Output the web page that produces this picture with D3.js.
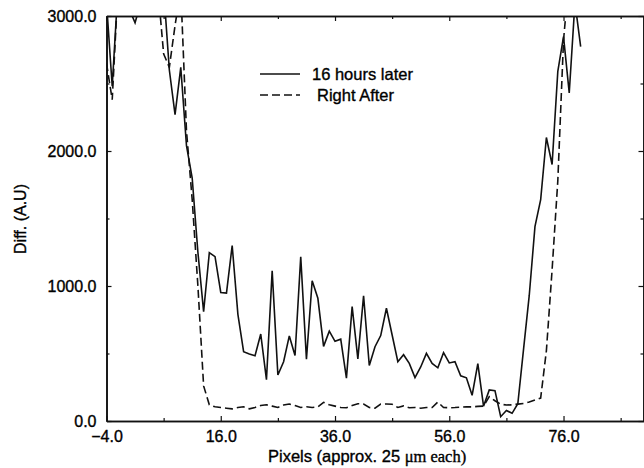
<!DOCTYPE html>
<html>
<head>
<meta charset="utf-8">
<script src="https://cdn.jsdelivr.net/npm/d3@7"></script>
<style>
body { margin: 0; background: #fff; }
text { font-family: "Liberation Sans", Arial, sans-serif; fill: #000; stroke: #000; stroke-width: 0.35px; }
</style>
</head>
<body>
<div class="container"></div>
<script>
// pixel index along the scan
var pixels = d3.range(-4, 80);

// "16 hours later" (solid)
var later16h = [
	3100, 2480, 3200, 3200, 3050, 2950, 3100, 3200, 3200, 3200,
	3200, 2600, 2270, 2620, 2040, 1800, 1250, 810, 1247, 1217,
	952, 948, 1300, 790, 513, 497, 483, 644, 306, 1112,
	341, 439, 630, 485, 1217, 457, 1039, 909, 553, 665,
	590, 606, 318, 847, 460, 928, 411, 550, 633, 835,
	637, 439, 491, 427, 322, 400, 501, 427, 394, 506,
	430, 440, 335, 320, 190, 425, 110, 230, 225, 32,
	78, 57, 128, 530, 930, 1440, 1640, 2100, 1900, 2590,
	2847, 2430, 3100, 2773
];

// "Right After" (dashed)
var rightAfter = [
	2650, 2380, 3200, 3200, 3200, 3200, 3200, 3200, 3200, 3200,
	2720, 2620, 2930, 3200, 2150, 1640, 1000, 260, 120, 105,
	100, 95, 90, 100, 105, 90, 100, 115, 120, 110,
	100, 118, 126, 115, 100, 105, 100, 105, 138, 120,
	110, 100, 98, 115, 128, 125, 100, 95, 125, 126,
	124, 100, 112, 98, 100, 95, 100, 100, 140, 100,
	98, 100, 103, 105, 105, 108, 110, 180, 150, 125,
	118, 120, 125, 130, 140, 155, 170, 520, 1120, 1780,
	2820, 3300, 3300, 3300
];

var seriesNames = ["16 hours later", "Right After"];
var xLabelTicks = [-4, 16, 36, 56, 76];
var xMinorTicks = [6, 26, 46, 66, 86];
var yLabelTicks = [0, 1000, 2000, 3000];
var yMinorTicks = [500, 1500, 2500];

const WIDTH = 644;
const HEIGHT = 468;
const LEFT = 106.5, RIGHT = 643.5, TOP = 16, BOTTOM = 421;

var svg = d3.select(".container").append('svg')
	.attr('width', WIDTH)
	.attr('height', HEIGHT);

var xScale = d3.scaleLinear().domain([-4, 90]).range([LEFT, RIGHT]);
var yScale = d3.scaleLinear().domain([0, 3000]).range([BOTTOM, TOP]);

svg.append('defs').append('clipPath').attr('id', 'plot')
	.append('rect')
	.attr('x', LEFT).attr('y', TOP)
	.attr('width', RIGHT - LEFT).attr('height', BOTTOM - TOP);

var fmt = d3.format('.1f');

var styleAxis = function(g){
	g.select('.domain').attr('stroke', '#111').attr('stroke-width', 1.6);
	g.selectAll('.tick line').attr('stroke', '#111').attr('stroke-width', 1.2);
	g.selectAll('text').attr('font-size', 16).attr('font-family', '"Liberation Sans", Arial, sans-serif').attr('fill', '#000');
};

// labelled axes
svg.append('g')
	.attr('transform', 'translate(0,' + BOTTOM + ')')
	.call(d3.axisBottom(xScale).tickValues(xLabelTicks).tickFormat(fmt).tickSizeInner(-5).tickSizeOuter(0).tickPadding(10))
	.call(styleAxis);
svg.append('g')
	.attr('transform', 'translate(' + LEFT + ',0)')
	.call(d3.axisLeft(yScale).tickValues(yLabelTicks).tickFormat(fmt).tickSizeInner(-5).tickSizeOuter(0).tickPadding(10))
	.call(styleAxis);
svg.append('g')
	.attr('transform', 'translate(0,' + TOP + ')')
	.call(d3.axisTop(xScale).tickValues(xLabelTicks).tickFormat('').tickSizeInner(-5).tickSizeOuter(0))
	.call(styleAxis);
svg.append('g')
	.attr('transform', 'translate(' + RIGHT + ',0)')
	.call(d3.axisRight(yScale).tickValues(yLabelTicks).tickFormat('').tickSizeInner(-5).tickSizeOuter(0))
	.call(styleAxis);

// minor ticks
var minor = function(axis){ return axis.tickFormat('').tickSizeInner(-3).tickSizeOuter(0); };
svg.append('g').attr('transform', 'translate(0,' + BOTTOM + ')')
	.call(minor(d3.axisBottom(xScale).tickValues(xMinorTicks))).call(styleAxis);
svg.append('g').attr('transform', 'translate(0,' + TOP + ')')
	.call(minor(d3.axisTop(xScale).tickValues(xMinorTicks))).call(styleAxis);
svg.append('g').attr('transform', 'translate(' + LEFT + ',0)')
	.call(minor(d3.axisLeft(yScale).tickValues(yMinorTicks))).call(styleAxis);
svg.append('g').attr('transform', 'translate(' + RIGHT + ',0)')
	.call(minor(d3.axisRight(yScale).tickValues(yMinorTicks))).call(styleAxis);

// data lines
var line = d3.line()
	.x(function(d){ return xScale(d[0]); })
	.y(function(d){ return yScale(d[1]); });

var g = svg.append('g').attr('clip-path', 'url(#plot)');

g.append('path')
	.attr('d', line(d3.zip(pixels, later16h)))
	.attr('fill', 'none').attr('stroke', '#111').attr('stroke-width', 1.6);

g.append('path')
	.attr('d', line(d3.zip(pixels, rightAfter)))
	.attr('fill', 'none').attr('stroke', '#111').attr('stroke-width', 1.6)
	.attr('stroke-dasharray', '8,4');

// legend
var legend = svg.append('g');
legend.append('line').attr('x1', 260).attr('x2', 300).attr('y1', 74).attr('y2', 74)
	.attr('stroke', '#111').attr('stroke-width', 1.6);
legend.append('text').attr('x', 312).attr('y', 80).attr('font-size', 16.5).text(seriesNames[0]);
legend.append('line').attr('x1', 260).attr('x2', 300).attr('y1', 95).attr('y2', 95)
	.attr('stroke', '#111').attr('stroke-width', 1.6).attr('stroke-dasharray', '8,4');
legend.append('text').attr('x', 317).attr('y', 101).attr('font-size', 16.5).text(seriesNames[1]);

// axis titles
var xt = svg.append('text').attr('x', 268).attr('y', 462).attr('font-size', 16.5);
xt.append('tspan').text('Pixels (approx. 25 ');
xt.append('tspan').attr('font-family', '"Liberation Serif", "Times New Roman", serif').text('\u03bcm each)');

svg.append('text')
	.attr('transform', 'translate(26,219) rotate(-90)')
	.attr('text-anchor', 'middle')
	.attr('font-size', 16)
	.text('Diff. (A.U)');
</script>
</body>
</html>
